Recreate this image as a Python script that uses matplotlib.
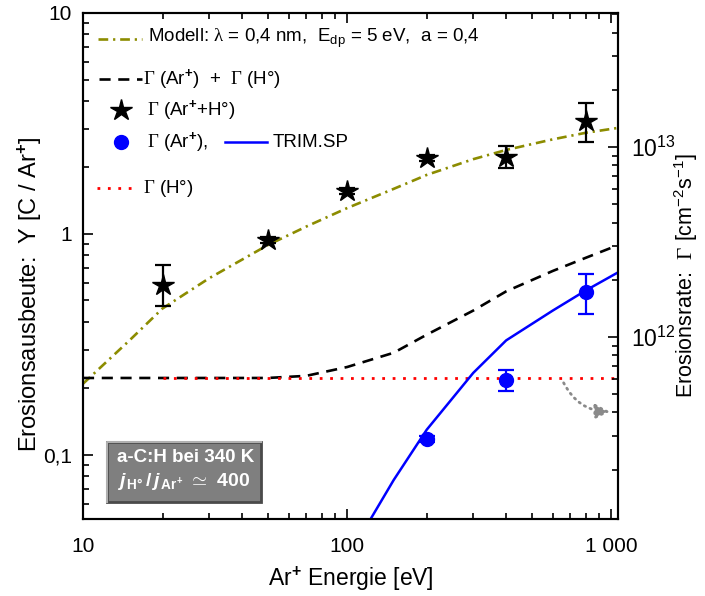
import matplotlib
matplotlib.use('Agg')
import matplotlib.pyplot as plt
from matplotlib.ticker import FixedLocator, FixedFormatter, LogLocator, NullFormatter
from matplotlib.patches import Rectangle

plt.rcParams['font.family'] = ['Liberation Sans', 'DejaVu Sans']
plt.rcParams['mathtext.fontset'] = 'custom'
plt.rcParams['mathtext.rm'] = 'Liberation Sans'
plt.rcParams['mathtext.it'] = 'Liberation Sans:italic:bold'
plt.rcParams['mathtext.bf'] = 'Liberation Sans:bold'
plt.rcParams['mathtext.sf'] = 'Liberation Serif'
plt.rcParams['lines.scale_dashes'] = False

# ---------------- data ----------------
model_E = [10, 15, 20, 30, 50, 70, 100, 150, 200, 300, 400, 600, 800, 1060]
model_Y = [0.21, 0.33, 0.46, 0.63, 0.89, 1.08, 1.31, 1.60, 1.85, 2.18, 2.40, 2.68, 2.87, 3.02]

sum_E = [10, 20, 30, 50, 70, 100, 150, 200, 300, 400, 600, 800, 1060]
sum_Y = [0.223, 0.223, 0.223, 0.223, 0.228, 0.25, 0.29, 0.35, 0.45, 0.55, 0.68, 0.78, 0.89]

h_E = [20, 1060]
h_Y = [0.223, 0.223]

trim_E = [115, 150, 200, 300, 400, 600, 800, 1060]
trim_Y = [0.045, 0.077, 0.13, 0.235, 0.33, 0.45, 0.555, 0.67]

star_E = [20, 50, 100, 200, 400, 800]
star_Y = [0.59, 0.94, 1.56, 2.21, 2.23, 3.24]
star_err_lo = [0.12, 0.03, 0.05, 0.06, 0.24, 0.63]
star_err_hi = [0.13, 0.03, 0.05, 0.06, 0.27, 0.68]

circ_E = [200, 400, 800]
circ_Y = [0.118, 0.218, 0.547]
circ_err_lo = [0.004, 0.023, 0.112]
circ_err_hi = [0.004, 0.025, 0.112]

arrow_from = (660, 0.212)
arrow_to = (990, 0.157)

x_ticks = [10, 100, 1000]
x_ticklabels = ['10', '100', '1 000']
y_ticks = [0.1, 1, 10]
y_ticklabels = ['0,1', '1', '10']
y2_ticks = [1e12, 1e13]
y2_ticklabels = [r'$10^{12}$', r'$10^{13}$']

# ---------------- figure ----------------
fig = plt.figure(figsize=(7.05, 5.96), dpi=100)
ax = fig.add_axes([83/705, 77/596, 535/705, 506/596])
ax.set_xscale('log')
ax.set_yscale('log')
ax.set_xlim(10, 1060)
ax.set_ylim(0.0513, 10)

olive = '#8c8c00'
ax.plot(model_E, model_Y, color=olive, lw=1.9, dashes=(7, 3.5, 1.6, 3.5))
ax.plot(sum_E, sum_Y, color='black', lw=1.9, dashes=(8, 5.5))
ax.plot(h_E, h_Y, color='red', lw=2.0, dashes=(2, 5.5))
ax.plot(trim_E, trim_Y, color='#0000ff', lw=1.8)
ax.errorbar(star_E, star_Y, yerr=[star_err_lo, star_err_hi], fmt='*', color='black',
            ms=16, elinewidth=1.6, capsize=6, capthick=1.6, zorder=5)
ax.errorbar(circ_E, circ_Y, yerr=[circ_err_lo, circ_err_hi], fmt='o', color='#0000ff',
            ms=10, elinewidth=1.6, capsize=6, capthick=1.6, zorder=5)

ax.annotate('', xy=arrow_to, xytext=arrow_from,
            arrowprops=dict(arrowstyle='-|>', color='#8a8a8a', lw=2, ls=(0, (1, 3.5)),
                            mutation_scale=22, connectionstyle='arc3,rad=0.3',
                            shrinkA=0, shrinkB=0))

# axes styling
for s in ax.spines.values():
    s.set_linewidth(1.5)
ax.xaxis.set_major_locator(FixedLocator(x_ticks))
ax.xaxis.set_major_formatter(FixedFormatter(x_ticklabels))
ax.xaxis.set_minor_locator(LogLocator(base=10, subs=range(2, 10)))
ax.xaxis.set_minor_formatter(NullFormatter())
ax.yaxis.set_major_locator(FixedLocator(y_ticks))
ax.yaxis.set_major_formatter(FixedFormatter(y_ticklabels))
ax.yaxis.set_minor_locator(LogLocator(base=10, subs=range(2, 10)))
ax.yaxis.set_minor_formatter(NullFormatter())
ax.tick_params(which='both', direction='in', top=True, right=False, width=1.2)
ax.tick_params(which='major', length=7, labelsize=15)
ax.tick_params(axis='x', which='major', pad=13)
ax.tick_params(axis='y', which='major', pad=8)
ax.tick_params(which='minor', length=4)

ax.set_xlabel(r'Ar$^{\mathbf{+}}$ Energie [eV]', fontsize=16.5, labelpad=6)
ax.set_ylabel(r'Erosionsausbeute:  Y [C / Ar$^{\mathbf{+}}$]', fontsize=17)
ax.yaxis.set_label_coords(-0.072, 0.445)

ax2 = ax.twinx()
ax2.set_yscale('log')
ax2.set_ylim(1.1e11, 5.07e13)
ax2.yaxis.set_major_locator(FixedLocator(y2_ticks))
ax2.yaxis.set_major_formatter(FixedFormatter(y2_ticklabels))
ax2.yaxis.set_minor_locator(LogLocator(base=10, subs=range(2, 10)))
ax2.yaxis.set_minor_formatter(NullFormatter())
ax2.tick_params(which='both', direction='in', width=1.2)
ax2.tick_params(which='major', length=7, labelsize=16.5, pad=9)
ax2.tick_params(which='minor', length=4)
ax2.set_ylabel(r'Erosionsrate:  $\mathsf{\Gamma}$ [cm$^{-2}$s$^{-1}$]', fontsize=15.5)
ax2.yaxis.set_label_coords(1.102, 0.482)
for s in ax2.spines.values():
    s.set_linewidth(1.5)

# ---------------- legend (manual) ----------------
T = ax.transAxes
fs = 13.5
ax.plot([0.028, 0.110], [0.949, 0.949], transform=T, color=olive, lw=1.9,
        dashes=(7, 3.5, 1.6, 3.5), clip_on=False)
ax.text(0.121, 0.949, r'Modell: $\mathsf{\lambda}$ = 0,4 nm,  E$_{\mathrm{dp}}$ = 5 eV,  a = 0,4',
        transform=T, fontsize=fs, va='center')
ax.plot([0.030, 0.110], [0.870, 0.870], transform=T, color='black', lw=1.9,
        dashes=(8, 5.5), clip_on=False)
ax.text(0.112, 0.870, r'$\mathsf{\Gamma}$ (Ar$^{\mathbf{+}}$)  +  $\mathsf{\Gamma}$ (H°)',
        transform=T, fontsize=fs, va='center')
ax.plot([0.071], [0.808], transform=T, marker='*', ms=16, color='black', clip_on=False)
ax.text(0.120, 0.808, r'$\mathsf{\Gamma}$ (Ar$^{\mathbf{+}}$+H°)',
        transform=T, fontsize=fs, va='center')
ax.plot([0.071], [0.745], transform=T, marker='o', ms=10, color='#0000ff', clip_on=False)
ax.text(0.120, 0.745, r'$\mathsf{\Gamma}$ (Ar$^{\mathbf{+}}$),',
        transform=T, fontsize=fs, va='center')
ax.plot([0.265, 0.344], [0.745, 0.745], transform=T, color='#0000ff', lw=1.8, clip_on=False)
ax.text(0.355, 0.745, 'TRIM.SP', transform=T, fontsize=fs, va='center')
ax.plot([0.026, 0.093], [0.654, 0.654], transform=T, color='red', lw=2.0,
        dashes=(2, 5.5), clip_on=False)
ax.text(0.112, 0.654, r'$\mathsf{\Gamma}$ (H°)', transform=T, fontsize=fs, va='center')

# ---------------- info box ----------------
ax.add_patch(Rectangle((0.045, 0.034), 0.288, 0.118, transform=T, facecolor='#7f7f7f',
                       edgecolor='#4a4a4a', lw=2, zorder=6))
ax.plot([0.045, 0.045, 0.333], [0.034, 0.152, 0.152], transform=T, color='#b0b0b0',
        lw=1.5, zorder=7)
ax.text(0.064, 0.121, 'a-C:H bei 340 K', transform=T, fontsize=13.5, color='white',
        fontweight='bold', va='center', zorder=8)
ax.text(0.064, 0.075,
        r'$j_{\,\mathbf{H°}}\,\mathbf{/}\,j_{\,\mathbf{Ar^{+}}}\ \mathbf{\simeq}\ \mathbf{400}$',
        transform=T, fontsize=14, color='white', va='center', zorder=8)

fig.savefig('out.png', dpi=100)
